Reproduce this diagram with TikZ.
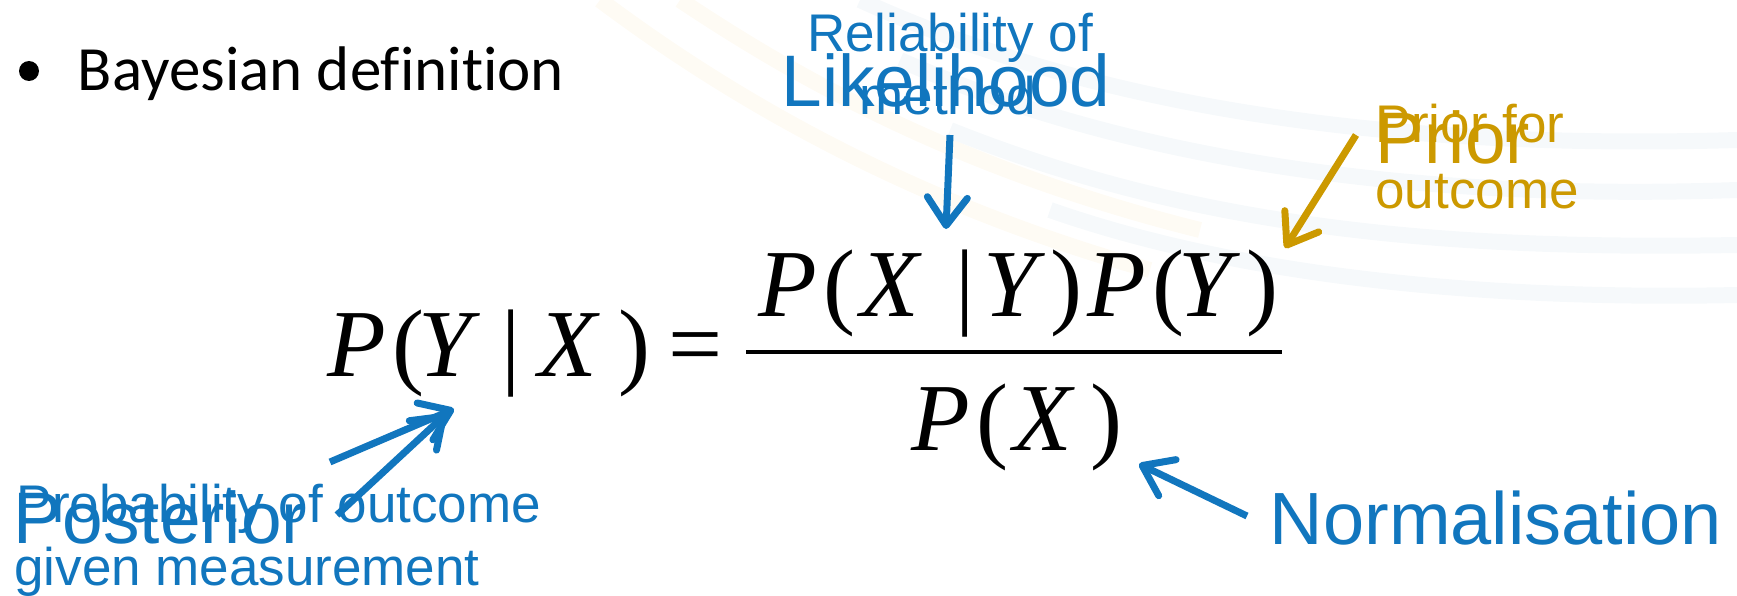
\documentclass[tikz,border=0pt]{standalone}
\usepackage{fontspec}
\setmainfont{Liberation Sans}
\newfontfamily\calibri[Ligatures=NoCommon]{Carlito}
\newfontfamily\tnr{Liberation Serif}
\usetikzlibrary{arrows.meta}
\definecolor{lblue}{RGB}{17,118,190}
\definecolor{lgold}{RGB}{204,153,0}
\definecolor{swO}{RGB}{254,251,244}
\definecolor{swB}{RGB}{246,249,251}
\newcommand{\fsz}[1]{\fontsize{#1}{#1}\selectfont}
\begin{document}
\begin{tikzpicture}[x=1pt,y=-1pt,
  lbl/.style={inner sep=0pt, outer sep=0pt, anchor=base},
  gl/.style={inner sep=0pt, outer sep=0pt, anchor=base west, font=\tnr\fsz{96}},
  gi/.style={gl, font=\tnr\itshape\fsz{96}},
  small/.style={lbl, font=\fsz{53}},
  big/.style={lbl, font=\fsz{73}},
  barb/.style={line width=7pt, -{Straight Barb[length=28pt,width=40pt,round]}},
  band/.style={line width=16pt}
]
\useasboundingbox (0,0) rectangle (1737,596);
% background swooshes
\draw[band, swO] (600,0) .. controls (720,90) and (900,200) .. (1150,270);
\draw[band, swO] (680,0) .. controls (800,80) and (960,170) .. (1200,230);
\draw[band, swB] (860,0) .. controls (1100,110) and (1400,150) .. (1737,140);
\draw[band, swB] (900,60) .. controls (1150,170) and (1450,200) .. (1737,190);
\draw[band, swB] (950,130) .. controls (1200,230) and (1450,250) .. (1737,245);
\draw[band, swB] (1050,210) .. controls (1250,280) and (1500,300) .. (1737,295);

% bullet line
\node[circle, fill=black, minimum size=20pt, inner sep=0pt] (bullet) at (29,71) {};
\node[lbl, font=\calibri\fsz{63}] (title) at (321,91) {Bayesian definition};

% equation, left side
\node[gi] (lP) at (327,376) {P};
\node[gl] (lo) at (392,376) {(};
\node[gi] (lY) at (418,376) {Y};
\node[gl] (lbar) at (501,376) {|};
\node[gi] (lX) at (538,376) {X};
\node[gl] (lc) at (618,376) {)};
\node[gl] (eq) at (668,376) {=};
% numerator
\node[gi] (nP1) at (758,316) {P};
\node[gl] (no1) at (823,316) {(};
\node[gi] (nX) at (860,316) {X};
\node[gl] (nbar) at (955,316) {|};
\node[gi] (nY1) at (983,316) {Y};
\node[gl] (nc1) at (1050,316) {)};
\node[gi] (nP2) at (1087,316) {P};
\node[gl] (no2) at (1152,316) {(};
\node[gi] (nY2) at (1178,316) {Y};
\node[gl] (nc2) at (1246,316) {)};
% fraction bar
\coordinate (fl) at (746,352);
\coordinate (fr) at (1282,352);
\draw[line width=4pt] (fl) -- (fr);
% denominator
\node[gi] (dP) at (911,450) {P};
\node[gl] (do) at (976,450) {(};
\node[gi] (dX) at (1013,450) {X};
\node[gl] (dc) at (1090,450) {)};

% Likelihood label
\node[small, text=lblue] (rel) at (950,52) {Reliability of};
\node[big, text=lblue] (lik) at (946,107) {Likelihood};
\node[small, text=lblue] (meth) at (948,115) {method};
\coordinate (likS) at (950,135);
\coordinate (likT) at (946,229);
\draw[barb, lblue] (likS) -- (likT);

% Prior label
\node[small, text=lgold] (prfor) at (1470,143) {Prior for};
\node[big, text=lgold] (prior) at (1453,164) {Prior};
\node[small, text=lgold] (outc) at (1477,208) {outcome};
\coordinate (prS) at (1356,135);
\coordinate (prT) at (1285,248);
\draw[barb, lgold] (prS) -- (prT);

% Normalisation
\node[big, text=lblue, font=\fsz{74}] (norm) at (1496,544) {Normalisation};
\coordinate (noS) at (1247,516);
\coordinate (noT) at (1139,464);
\draw[barb, lblue] (noS) -- (noT);

% Posterior
\node[small, text=lblue] (prob) at (279,522) {Probability of outcome};
\node[big, text=lblue] (post) at (160,543) {Posterior};
\node[small, text=lblue] (given) at (247,585) {given measurement};
\coordinate (poS1) at (330,462);
\coordinate (poT1) at (454,409);
\coordinate (poS2) at (337,515);
\coordinate (poT2) at (446,414);
\draw[barb, lblue] (poS1) -- (poT1);
\draw[barb, lblue] (poS2) -- (poT2);
\end{tikzpicture}
\end{document}
